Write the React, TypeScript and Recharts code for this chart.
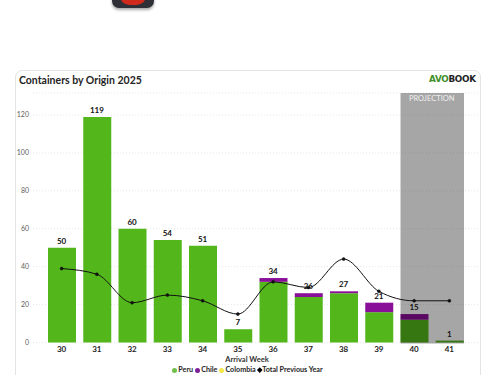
import React from "react";
import {
  ComposedChart,
  Bar,
  Line,
  XAxis,
  YAxis,
  CartesianGrid,
  ReferenceArea,
  LabelList,
} from "recharts";

const weeks = ["30", "31", "32", "33", "34", "35", "36", "37", "38", "39", "40", "41"];
const peru = [50, 119, 60, 54, 51, 7, 32, 24, 26, 16, 12, 1];
const chile = [0, 0, 0, 0, 0, 0, 2, 2, 1, 5, 3, 0];
const colombia = [0, 0, 0, 0, 0, 0, 0, 0, 0, 0, 0, 0];
const totals = [50, 119, 60, 54, 51, 7, 34, 26, 27, 21, 15, 1];
const previousYear = [39, 36, 21, 25, 22, 15, 32, 29, 44, 27, 22, 22];
const yTicks = [0, 20, 40, 60, 80, 100, 120];

const data = weeks.map((week, i) => ({
  week,
  peru: peru[i],
  chile: chile[i],
  colombia: colombia[i],
  total: totals[i],
  previousYear: previousYear[i],
}));

const FONT = "Lato, sans-serif";
const legendItems = [
  { name: "Peru", color: "#6fbf4a", size: 5, diamond: false },
  { name: "Chile", color: "#7d1f96", size: 5, diamond: false },
  { name: "Colombia", color: "#f5e84a", size: 5, diamond: false },
  { name: "Total Previous Year", color: "#000000", size: 3.5, diamond: true },
];

// the grey band stops a little short of the 40 and 41 category edges
function ProjectionBand(props: any) {
  const { x, y, width, height } = props;
  return (
    <g>
      <rect x={x + 4} y={y} width={width - 7} height={height + 1} fill="#000" fillOpacity={0.35} />
      <text x={x + width / 2} y={y + 8} textAnchor="middle" fontSize={7.5} fontFamily={FONT} fill="#f0f0f0">
        PROJECTION
      </text>
    </g>
  );
}

export default function App() {
  return (
    <div style={{ position: "absolute", left: 0, top: 0, width: 500, height: 375, overflow: "hidden", background: "#fff", fontFamily: FONT }}>
      <div style={{ position: "absolute", left: 112, top: -14, width: 42, height: 22, borderRadius: 7, background: "#2f2f38", boxShadow: "0 2px 3px rgba(0,0,0,0.35)" }}>
        <div style={{ position: "absolute", left: 8, top: 0, width: 26, height: 19, borderRadius: 10, background: "#d02a1c" }} />
      </div>
      <div style={{ position: "absolute", left: 15, top: 70, width: 466, height: 320, border: "1px solid #e4e4e4", borderRadius: 7, boxSizing: "border-box" }} />
      <div style={{ position: "absolute", left: 19, top: 72, fontSize: 10.5, fontWeight: 700, color: "#252423", lineHeight: "16px", whiteSpace: "nowrap" }}>
        Containers by Origin 2025
      </div>
      <div style={{ position: "absolute", left: 429, top: 74, width: 50, fontSize: 8.8, fontWeight: 800, lineHeight: "10px", fontFamily: "'DejaVu Sans', sans-serif", letterSpacing: -0.3, whiteSpace: "nowrap" }}>
        <span style={{ color: "#3f8f2a" }}>AVO</span>
        <span style={{ color: "#222" }}>BOOK</span>
      </div>
      <ComposedChart
        width={500}
        height={375}
        data={data}
        style={{ position: "absolute", left: 0, top: 0 }}
        margin={{ top: 93, right: 22, left: 18, bottom: 0 }}
      >
        <CartesianGrid stroke="#e8e8e8" strokeDasharray="1 2" vertical={false} />
        <XAxis
          dataKey="week"
          axisLine={false}
          tickLine={false}
          interval={0}
          padding={{ left: 11, right: 11 }}
          height={32.5}
          tickMargin={-2}
          tick={{ fill: "#252423", fontSize: 8, fontWeight: 700, fontFamily: FONT }}
        />
        <YAxis
          domain={[0, 131.6]}
          ticks={yTicks}
          axisLine={false}
          tickLine={false}
          width={15}
          tickSize={1}
          tickMargin={3}
          tick={{ fill: "#605e5c", fontSize: 7, fontFamily: FONT }}
        />
        <Bar dataKey="peru" stackId="a" fill="#53b71c" barSize={28} isAnimationActive={false} />
        <Bar dataKey="chile" stackId="a" fill="#8a0f98" barSize={28} isAnimationActive={false} />
        <Bar dataKey="colombia" stackId="a" fill="#f2e63d" barSize={28} isAnimationActive={false} />
        <ReferenceArea x1="40" x2="41" ifOverflow="visible" shape={ProjectionBand} zIndex={350} />
        <Line
          dataKey="previousYear"
          type="monotone"
          stroke="#111"
          strokeWidth={1}
          dot={{ r: 1.5, fill: "#111", stroke: "#111", strokeWidth: 0.5 }}
          isAnimationActive={false}
        />
        {/* invisible line only carries the total labels above each stack */}
        <Line dataKey="total" stroke="none" dot={false} legendType="none" isAnimationActive={false}>
          <LabelList dataKey="total" position="top" offset={4} fill="#111" fontSize={8} fontWeight={700} fontFamily={FONT} />
        </Line>
      </ComposedChart>
      <div style={{ position: "absolute", left: 0, width: 494, top: 355, textAlign: "center", fontSize: 7.5, fontWeight: 700, color: "#333", lineHeight: "10px" }}>
        Arrival Week
      </div>
      <div style={{ position: "absolute", left: 0, width: 495, top: 365, display: "flex", justifyContent: "center", gap: 2, fontSize: 7.2, fontWeight: 700, color: "#252423", lineHeight: "10px", whiteSpace: "nowrap" }}>
        {legendItems.map((item) => (
          <span key={item.name} style={{ display: "flex", alignItems: "center", gap: 1 }}>
            <span
              style={{
                display: "inline-block",
                width: item.size,
                height: item.size,
                background: item.color,
                borderRadius: item.diamond ? 0 : "50%",
                transform: item.diamond ? "rotate(45deg)" : undefined,
              }}
            />
            {item.name}
          </span>
        ))}
      </div>
    </div>
  );
}
